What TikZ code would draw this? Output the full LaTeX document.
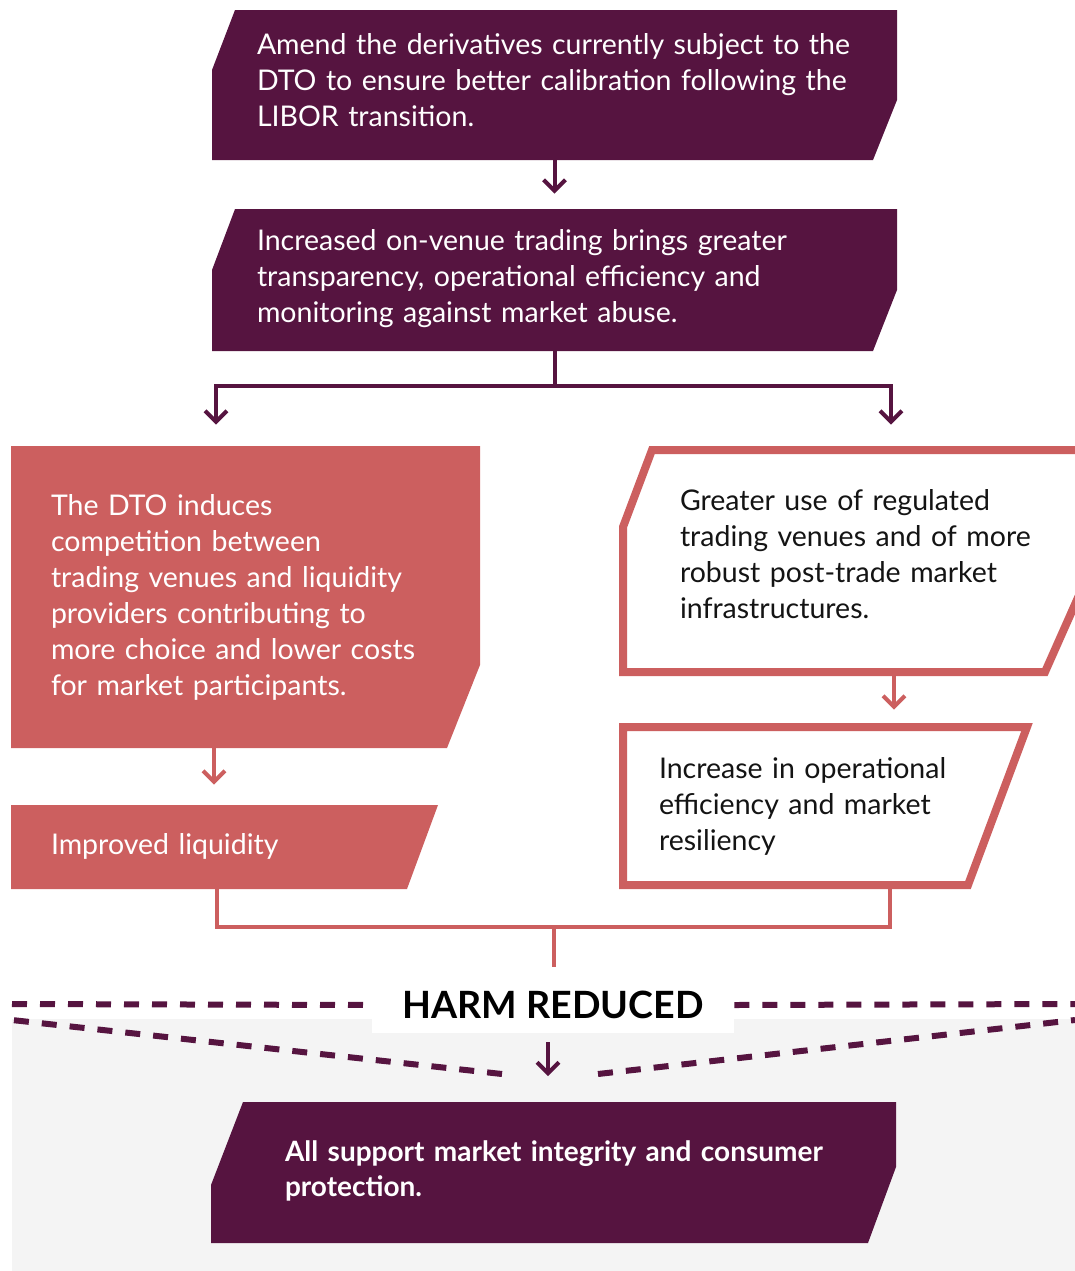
\documentclass[tikz,border=0pt]{standalone}
\usepackage{fontspec}
\setmainfont{Lato}
\definecolor{Plum}{RGB}{86, 20, 64}
\definecolor{Coral}{RGB}{204, 95, 95}
\definecolor{PaleGray}{RGB}{244, 244, 244}
\definecolor{InkBlack}{RGB}{20, 20, 20}
\usepackage{tikz}
\usetikzlibrary{arrows.meta, positioning, calc}

\tikzset{
    stepbox/.style={inner ysep=0pt, align=left, anchor=center, font=\fontsize{14.25}{18}\selectfont},
    plumline/.style={draw=Plum, line width=2pt},
    plumarrow/.style={plumline, -{Straight Barb[length=5.5pt, width=11pt]}},
    coralline/.style={draw=Coral, line width=2pt},
    coralarrow/.style={coralline, -{Straight Barb[length=5.5pt, width=11pt]}},
    dashline/.style={draw=Plum, line width=3pt, dash pattern=on 7.5pt off 6.5pt},
}

\begin{document}
\begin{tikzpicture}[x=0.5pt, y=-0.5pt]
        \clip (0,0) rectangle (1075,1271);
        \useasboundingbox (0,0) rectangle (1075,1271);

        % Shaded area for the outcome
        \fill[PaleGray] (12,1019) rectangle (1075,1271);

        % Box shapes
        \fill[Plum] (235,10) -- (897,10) -- (897,100) -- (873,160) -- (212,160) -- (212,70) -- cycle;
        \fill[Plum] (235,209) -- (897,209) -- (897,290) -- (873,351) -- (212,351) -- (212,270) -- cycle;
        \fill[Coral] (11,446) -- (480,446) -- (480,665) -- (447,748) -- (11,748) -- cycle;
        \fill[Coral] (11,805) -- (438,805) -- (407,889) -- (11,889) -- cycle;
        \draw[Coral, line width=4pt, fill=white] (652,450) -- (1100,450) -- (1100,548) -- (1045,672) -- (623,672) -- (623,527) -- cycle;
        \draw[Coral, line width=4pt, fill=white] (623,727) -- (1027,727) -- (968,885) -- (623,885) -- cycle;
        \fill[Plum] (243,1102) -- (896,1102) -- (896,1167) -- (868,1243) -- (211,1243) -- (211,1185) -- cycle;

        % Texts of the boxes
        \node[stepbox, text=white, minimum width=342.5pt, minimum height=75pt, inner xsep=22.5pt, text width=297.5pt] (amend) at (554.5,80)
            {Amend the derivatives currently subject to the\\DTO to ensure better calibration following the\\LIBOR transition.};
        \node[stepbox, text=white, minimum width=342.5pt, minimum height=71pt, inner xsep=22.5pt, text width=297.5pt] (onvenue) at (554.5,279)
            {Increased on-venue trading brings greater\\transparency, operational efficiency and\\monitoring against market abuse.};
        \node[stepbox, text=white, minimum width=234.5pt, minimum height=151pt, inner xsep=20pt, text width=194.5pt] (compet) at (245.5,597)
            {The DTO induces\\competition between\\trading venues and liquidity\\providers contributing to\\more choice and lower costs\\for market participants.};
        \node[stepbox, text=white, minimum width=213.5pt, minimum height=42pt, inner xsep=20pt, text width=173.5pt] (liquid) at (224.5,846)
            {Improved liquidity};
        \node[stepbox, text=InkBlack, minimum width=240pt, minimum height=111pt, inner xsep=30pt, text width=180pt] (venues) at (860,554)
            {Greater use of regulated\\trading venues and of more\\robust post-trade market\\infrastructures.};
        \node[stepbox, text=InkBlack, minimum width=202pt, minimum height=79pt, inner xsep=18pt, text width=166pt] (efficiency) at (825,806)
            {Increase in operational\\efficiency and market\\resiliency};

        % Harm reduced
        \draw[dashline] (502,1074) -- (12,1020);
        \draw[dashline] (598,1074) -- (1075,1020);
        \node[fill=white, minimum width=181pt, minimum height=28pt, font=\bfseries\fontsize{18.8}{22}\selectfont] (harm) at (553,1005) {HARM REDUCED};
        \draw[dashline] (12,1004) -- (harm.west);
        \draw[dashline] (harm.east) -- (1075,1004);

        \node[stepbox, text=white, minimum height=70.5pt, inner xsep=20pt, text width=290pt, font=\bfseries\fontsize{14}{17.5}\selectfont] (support) at (575,1171)
            {All support market integrity and consumer\\protection.};

        % Connectors
        \draw[plumarrow, shorten >=7pt] (amend.south) -- (onvenue.north);
        \coordinate (fork) at (554.5,386);
        \draw[plumline] (onvenue.south) -- (fork);
        \draw[plumarrow] (fork) -| ([xshift=-14.75pt, yshift=10.5pt]compet.north);
        \draw[plumarrow] (fork) -| ([xshift=15.5pt, yshift=9pt]venues.north);

        \draw[coralarrow] ([xshift=-15.75pt]compet.south) -- ([xshift=-5.25pt, yshift=9.5pt]liquid.north);
        \draw[coralarrow] ([xshift=17pt]venues.south |- 0,676) -- ([xshift=34.5pt, yshift=8.5pt]efficiency.north);

        \coordinate (join) at (554,927);
        \draw[coralline] ([xshift=-3.75pt]liquid.south) |- (join) -| ([xshift=32.5pt, yshift=-2pt]efficiency.south);
        \draw[coralline] (join) -- ([yshift=5pt]join |- harm.north);

        \draw[plumarrow, shorten <=4.5pt, shorten >=12pt] ([xshift=-2.5pt]harm.south) -- ([xshift=-2.5pt]harm.south |- support.north);
\end{tikzpicture}
\end{document}
